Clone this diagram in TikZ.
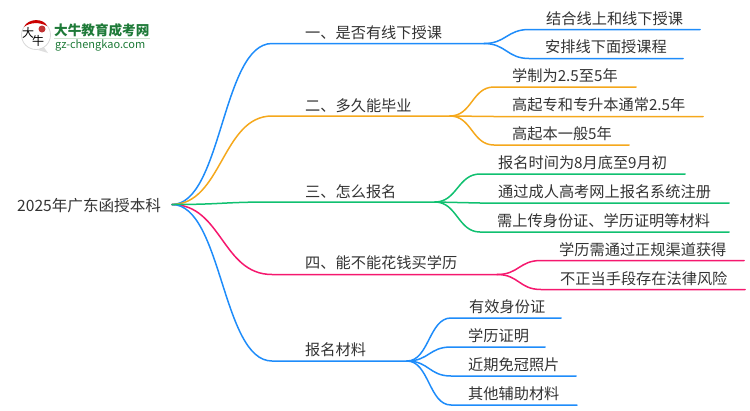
\documentclass[tikz,border=0pt]{standalone}
\usepackage{fontspec}
\setmainfont{Noto Sans CJK SC}
\usetikzlibrary{calc}
\definecolor{cblue}{HTML}{1E8CFA}
\definecolor{corange}{HTML}{F5A81C}
\definecolor{cgreen}{HTML}{10C070}
\definecolor{cpink}{HTML}{F5186E}
\definecolor{ctext}{HTML}{333333}
\definecolor{cgreenlogo}{HTML}{1E7A38}
\tikzset{
  lbl/.style={anchor=west,inner sep=0pt,text=ctext,font=\fontsize{15.2}{15.2}\selectfont},
  wire/.style={line width=1.5pt,line cap=round}
}
\begin{document}
\begin{tikzpicture}[x=1pt,y=-1pt]
\useasboundingbox (0,0) rectangle (750,410);
% root
\node[lbl,font=\fontsize{15.6}{15.6}\selectfont] (root) at (17,206) {2025年广东函授本科};
\coordinate (o) at (172,204.5);
% branch labels
\node[lbl] (b1) at (305,33) {一、是否有线下授课};
\node[lbl] (b2) at (305,105.5) {二、多久能毕业};
\node[lbl] (b3) at (305,191.5) {三、怎么报名};
\node[lbl] (b4) at (305,263) {四、能不能花钱买学历};
\node[lbl] (b5) at (305,350) {报名材料};
% junctions
\coordinate (s1) at (272,43.5); \coordinate (j1) at (484,43.5);
\coordinate (s2) at (272,116); \coordinate (j2) at (450,116);
\coordinate (s3) at (272,202); \coordinate (j3) at (435,202);
\coordinate (s4) at (272,274.5); \coordinate (j4) at (497,274.5);
\coordinate (s5) at (272,361); \coordinate (j5) at (407,361);
% leaf labels
\node[lbl] (l11) at (546,18.5) {结合线上和线下授课};
\node[lbl] (l12) at (545,47) {安排线下面授课程};
\node[lbl] (l21) at (512,76) {学制为2.5至5年};
\node[lbl] (l22) at (512,105) {高起专和专升本通常2.5年};
\node[lbl] (l23) at (512,134) {高起本一般5年};
\node[lbl] (l31) at (498,162.5) {报名时间为8月底至9月初};
\node[lbl] (l32) at (498,191.5) {通过成人高考网上报名系统注册};
\node[lbl] (l33) at (497,220.5) {需上传身份证、学历证明等材料};
\node[lbl] (l41) at (559,249.5) {学历需通过正规渠道获得};
\node[lbl] (l42) at (560,278.5) {不正当手段存在法律风险};
\node[lbl] (l51) at (469,307) {有效身份证};
\node[lbl] (l52) at (468,336) {学历证明};
\node[lbl] (l53) at (468,365) {近期免冠照片};
\node[lbl] (l54) at (468,393.5) {其他辅助材料};
% leaf line ends
\coordinate (e11) at (700,29.5); \coordinate (e12) at (683,58.5);
\coordinate (e21) at (636,87); \coordinate (e22) at (703,116.5); \coordinate (e23) at (629,145);
\coordinate (e31) at (685,174); \coordinate (e32) at (729,203); \coordinate (e33) at (729,232);
\coordinate (e41) at (744,260.5); \coordinate (e42) at (745,289.5);
\coordinate (e51) at (561,318); \coordinate (e52) at (545,347); \coordinate (e53) at (576,376); \coordinate (e54) at (577,405);
% curve helper: from A to horizontal run at B, bend width W
\def\curveto#1#2#3#4#5{%
  \draw[wire,#1] (#2) .. controls ($(#2)+(#5,0)$) and ($(#3)-(#5,0)$) .. (#3) -- (#4);}
% root branches
\curveto{cblue}{o}{s1}{j1}{50}
\curveto{corange}{o}{s2}{j2}{50}
\curveto{cpink}{o}{s4}{j4}{50}
\curveto{cblue}{o}{s5}{j5}{50}
\curveto{cgreen}{o}{s3}{j3}{50}
% leaves
\coordinate (c11) at (529,29.5); \coordinate (c12) at (529,58.5);
\curveto{cblue}{j1}{c11}{e11}{22}
\curveto{cblue}{j1}{c12}{e12}{22}
\coordinate (c21) at (494,87); \coordinate (c22) at (494,116.5); \coordinate (c23) at (494,145);
\curveto{corange}{j2}{c21}{e21}{22}
\curveto{corange}{j2}{c22}{e22}{22}
\curveto{corange}{j2}{c23}{e23}{22}
\coordinate (c31) at (480,174); \coordinate (c32) at (480,203); \coordinate (c33) at (480,232);
\curveto{cgreen}{j3}{c31}{e31}{22}
\curveto{cgreen}{j3}{c32}{e32}{22}
\curveto{cgreen}{j3}{c33}{e33}{22}
\coordinate (c41) at (541,260.5); \coordinate (c42) at (541,289.5);
\curveto{cpink}{j4}{c41}{e41}{22}
\curveto{cpink}{j4}{c42}{e42}{22}
\coordinate (c51) at (451,318); \coordinate (c52) at (451,347); \coordinate (c53) at (451,376); \coordinate (c54) at (451,405);
\curveto{cblue}{j5}{c51}{e51}{22}
\curveto{cblue}{j5}{c52}{e52}{22}
\curveto{cblue}{j5}{c53}{e53}{22}
\curveto{cblue}{j5}{c54}{e54}{22}
% logo
\fill[gray!25] (38,50) -- (48,53) -- (43,46) -- cycle;
\draw[gray!30,line width=0.8pt,fill=white] (36,35) circle (14.5);
\fill[red!80!black] (24,27) .. controls (28,18) and (44,18) .. (47,26) .. controls (40,22) and (30,22) .. (24,27) -- cycle;
\fill[red!70!black,opacity=.8] (42,29) circle (3.5);
\node[inner sep=0pt,text=black,font=\fontsize{12}{12}\selectfont] (lgA) at (28,33) {大};
\node[inner sep=0pt,text=black,font=\fontsize{12}{12}\selectfont] (lgB) at (38,41) {牛};
\node[anchor=west,inner sep=0pt,text=cgreenlogo,font=\fontsize{13.6}{13.6}\selectfont\bfseries] (lg1) at (54,30) {大牛教育成考网};
\node[anchor=west,inner sep=0pt,text=cgreenlogo,font=\fontsize{11}{11}\selectfont] (lg2) at (55,45) {gz-chengkao.com};
\draw[green!30!gray!30,line width=0.8pt] (54,38.5) -- (150,38.5);
\end{tikzpicture}
\end{document}
